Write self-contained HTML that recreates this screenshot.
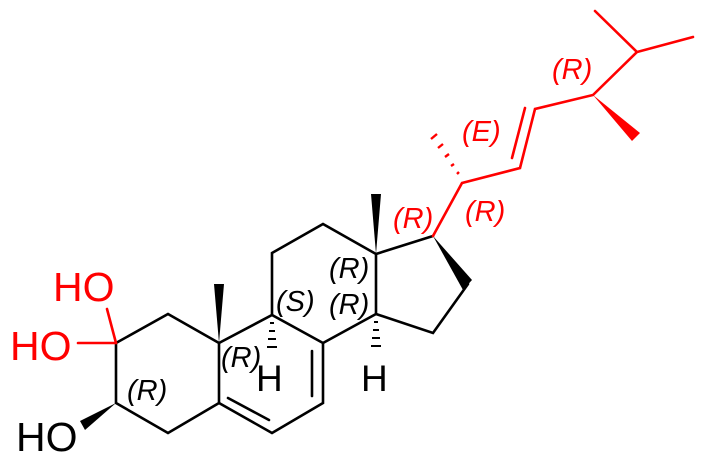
<!DOCTYPE html>
<html><head><style>html,body{margin:0;padding:0;background:#fff}svg{display:block}</style></head><body>
<svg width="703" height="459" viewBox="0 0 703 459" xmlns="http://www.w3.org/2000/svg" font-family="Liberation Sans, Arial, sans-serif">
<g stroke="#000" stroke-width="2.6" fill="none" stroke-linecap="round">
<polyline points="116,343 168,314 219,343 219,403 168,433 116,403 116,343"/>
<polyline points="219,343 272,315 323,343 323,403 272,433 219,403"/>
<polyline points="272,315 272,253 323,224 376,254 376,314 323,343"/>
<polyline points="376,254 433,236"/>
<polyline points="376,314 433,333 468,284"/>
<line x1="312" y1="351" x2="312" y2="396"/>
<line x1="228" y1="398" x2="269" y2="420"/>
</g>
<g fill="#000">
<polygon points="219,343 214,284 224,284"/>
<polygon points="376,254 371,194 381,194"/>
<polygon points="433,236 463,290 472,280"/>
<polygon points="116,403 80,421 85,430"/>
<rect x="270" y="322" width="4" height="2"/><rect x="269" y="330" width="6" height="2"/><rect x="268" y="338" width="8" height="2"/><rect x="267" y="346" width="10" height="2"/>
<rect x="374" y="321" width="4" height="2"/><rect x="373" y="329" width="6" height="2"/><rect x="372" y="337" width="8" height="2"/><rect x="371" y="345" width="10" height="2"/>
</g>
<g stroke="#f00" stroke-width="2.6" fill="none" stroke-linecap="round">
<line x1="116" y1="343" x2="107" y2="309"/>
<line x1="116" y1="343" x2="78" y2="343"/>
<polyline points="433,236 462,183 520,168 535,109 593,95 637,52 693,37"/>
<line x1="637" y1="52" x2="595" y2="11"/>
<line x1="512" y1="158" x2="525" y2="108"/>
</g>
<g fill="#f00">
<polygon points="593,95 632,141 640,133"/>
<g stroke="#f00" stroke-width="2.4">
<line x1="457" y1="174" x2="459" y2="172"/><line x1="451" y1="166" x2="454" y2="164"/><line x1="445" y1="157" x2="449" y2="154"/><line x1="438" y1="148" x2="443" y2="144"/><line x1="431" y1="139" x2="437" y2="134"/>
</g>
</g>
<g font-size="41">
<text x="53" y="301" fill="#f00">HO</text>
<text x="10" y="360" fill="#f00">HO</text>
<text x="16" y="451" fill="#000">HO</text>
<text x="256" y="391" font-size="37">H</text>
<text x="361" y="391" font-size="37">H</text>
</g>
<g font-size="29" font-style="italic">
<text x="127" y="400">(R)</text>
<text x="221" y="367">(R)</text>
<text x="276" y="311">(S)</text>
<text x="329" y="278">(R)</text>
<text x="329" y="314">(R)</text>
<g fill="#f00">
<text x="393" y="228">(R)</text>
<text x="465" y="221">(R)</text>
<text x="462" y="141">(E)</text>
<text x="552" y="79">(R)</text>
</g>
</g>
</svg>
</body></html>
